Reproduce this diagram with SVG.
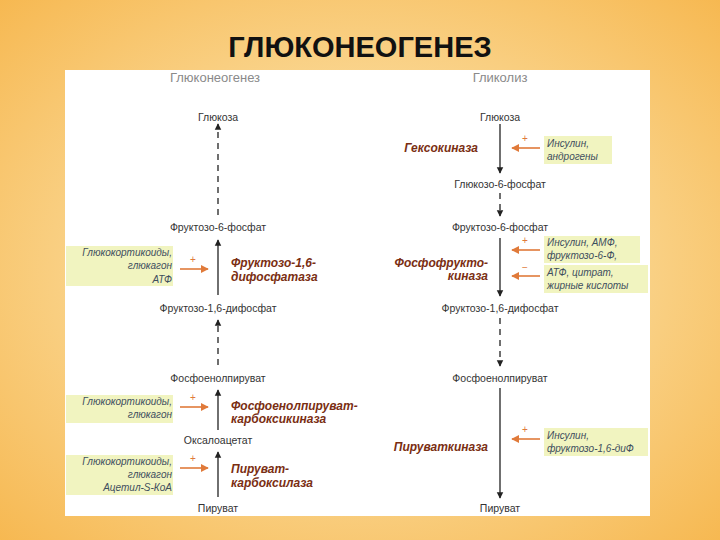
<svg xmlns="http://www.w3.org/2000/svg" width="720" height="540" viewBox="0 0 720 540">
<defs>
<radialGradient id="bg" cx="0.5" cy="0.5" r="0.75"><stop offset="0" stop-color="#fdf0c8"/><stop offset="1" stop-color="#f6b54a"/></radialGradient>
<marker id="ah" viewBox="0 0 10 10" refX="9" refY="5" markerWidth="5" markerHeight="6" orient="auto"><path d="M0,0L10,5L0,10z" fill="#222"/></marker>
<marker id="oh" viewBox="0 0 10 10" refX="9" refY="5" markerWidth="5" markerHeight="5" orient="auto"><path d="M0,0L10,5L0,10z" fill="#e07a3a"/></marker>
</defs>
<style>
.t{font-family:"Liberation Sans",Arial,sans-serif;font-size:10.5px;fill:#333}
.h{font-family:"Liberation Sans",Arial,sans-serif;font-size:13px;fill:#8a8a8a}
.e{font-family:"Liberation Sans",Arial,sans-serif;font-size:12px;font-weight:bold;font-style:italic;fill:#7a2e12}
.r{font-family:"Liberation Sans",Arial,sans-serif;font-size:10px;font-style:italic;fill:#3e4e5e}
.hl{fill:#f1f4c0}
.a{stroke:#222;stroke-width:1.3;fill:none;marker-end:url(#ah)}
.d{stroke-dasharray:6,5}
.o{stroke:#e07a3a;stroke-width:1.6;fill:none;marker-end:url(#oh)}
.s{font-family:"Liberation Sans",Arial,sans-serif;font-size:10px;fill:#e07a3a}
</style>
<rect width="720" height="540" fill="url(#bg)"/>
<text x="360" y="57" text-anchor="middle" font-family="Liberation Sans,Arial,sans-serif" font-size="29" font-weight="bold" fill="#111">ГЛЮКОНЕОГЕНЕЗ</text>
<rect x="65" y="70" width="585" height="446" fill="#fff"/>
<text class="h" x="215" y="82" text-anchor="middle">Глюконеогенез</text>
<text class="h" x="500" y="82" text-anchor="middle">Гликолиз</text>
<g id="connectors">
<line class="a d" x1="218" y1="215" x2="218" y2="124"/>
<line class="a" x1="218" y1="295" x2="218" y2="240"/>
<line class="a d" x1="218" y1="365" x2="218" y2="320"/>
<line class="a" x1="218" y1="430" x2="218" y2="390"/>
<line class="a" x1="218" y1="497" x2="218" y2="452"/>
<line class="a" x1="500" y1="124" x2="500" y2="173"/>
<line class="a d" x1="500" y1="193" x2="500" y2="216"/>
<line class="a" x1="500" y1="238" x2="500" y2="296"/>
<line class="a d" x1="500" y1="318" x2="500" y2="366"/>
<line class="a" x1="500" y1="388" x2="500" y2="498"/>
<path class="o" d="M180,269H208"/><path class="o" d="M180,407H208"/><path class="o" d="M180,468H208"/>
<path class="o" d="M540,148H512"/><path class="o" d="M540,250H512"/><path class="o" d="M540,276H512"/><path class="o" d="M540,439H512"/>
<text class="s" x="190" y="263">+</text><text class="s" x="190" y="401">+</text><text class="s" x="190" y="462">+</text>
<text class="s" x="522" y="142">+</text><text class="s" x="522" y="244">+</text><text class="s" x="522" y="271">−</text><text class="s" x="522" y="433">+</text>
</g>
<g id="n-left">
<text class="t" x="218" y="121" text-anchor="middle">Глюкоза</text>
<text class="t" x="218" y="231" text-anchor="middle">Фруктозо-6-фосфат</text>
<text class="t" x="218" y="312" text-anchor="middle">Фруктозо-1,6-дифосфат</text>
<text class="t" x="218" y="382" text-anchor="middle">Фосфоенолпируват</text>
<text class="t" x="218" y="444" text-anchor="middle">Оксалоацетат</text>
<text class="t" x="218" y="512" text-anchor="middle">Пируват</text>
</g>
<g id="n-right">
<text class="t" x="500" y="121" text-anchor="middle">Глюкоза</text>
<text class="t" x="500" y="188" text-anchor="middle">Глюкозо-6-фосфат</text>
<text class="t" x="500" y="231" text-anchor="middle">Фруктозо-6-фосфат</text>
<text class="t" x="500" y="312" text-anchor="middle">Фруктозо-1,6-дифосфат</text>
<text class="t" x="500" y="382" text-anchor="middle">Фосфоенолпируват</text>
<text class="t" x="500" y="512" text-anchor="middle">Пируват</text>
</g>
<g id="enzymes">
<text class="e" x="231" y="267">Фруктозо-1,6-</text><text class="e" x="231" y="281">дифосфатаза</text>
<text class="e" x="231" y="410">Фосфоенолпируват-</text><text class="e" x="231" y="423">карбоксикиназа</text>
<text class="e" x="231" y="473">Пируват-</text><text class="e" x="231" y="487">карбоксилаза</text>
<text class="e" x="478" y="152" text-anchor="end">Гексокиназа</text>
<text class="e" x="488" y="267" text-anchor="end">Фосфофрукто-</text><text class="e" x="488" y="280" text-anchor="end">киназа</text>
<text class="e" x="488" y="451" text-anchor="end">Пируваткиназа</text>
</g>
<g id="regulators">
<rect class="hl" x="66" y="246" width="107" height="40"/>
<text class="r" x="172" y="256" text-anchor="end">Глюкокортикоиды,</text><text class="r" x="172" y="269" text-anchor="end">глюкагон</text><text class="r" x="172" y="283" text-anchor="end">АТФ</text>
<rect class="hl" x="66" y="395" width="107" height="28"/>
<text class="r" x="172" y="405" text-anchor="end">Глюкокортикоиды,</text><text class="r" x="172" y="418" text-anchor="end">глюкагон</text>
<rect class="hl" x="66" y="455" width="107" height="40"/>
<text class="r" x="172" y="465" text-anchor="end">Глюкокортикоиды,</text><text class="r" x="172" y="478" text-anchor="end">глюкагон</text><text class="r" x="172" y="491" text-anchor="end">Ацетил-S-КоА</text>
<rect class="hl" x="544" y="136" width="68" height="28"/>
<text class="r" x="547" y="147">Инсулин,</text><text class="r" x="547" y="160">андрогены</text>
<rect class="hl" x="544" y="236" width="96" height="27"/>
<text class="r" x="547" y="246">Инсулин, АМФ,</text><text class="r" x="547" y="259">фруктозо-6-Ф,</text>
<rect class="hl" x="544" y="265" width="104" height="28"/>
<text class="r" x="547" y="276">АТФ, цитрат,</text><text class="r" x="547" y="289">жирные кислоты</text>
<rect class="hl" x="544" y="428" width="104" height="28"/>
<text class="r" x="547" y="439">Инсулин,</text><text class="r" x="547" y="452">фруктозо-1,6-диФ</text>
</g>
</svg>
